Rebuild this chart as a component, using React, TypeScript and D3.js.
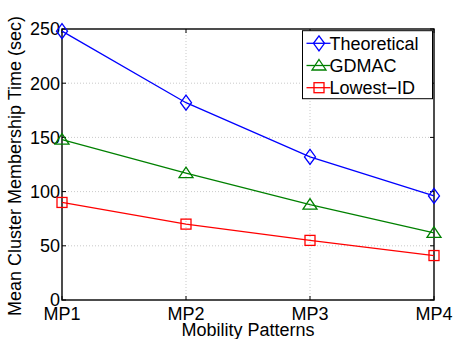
import * as d3 from 'd3';
import React from 'react';

// chart values
const patterns = ['MP1', 'MP2', 'MP3', 'MP4'];
const theoretical = [248, 182, 132, 96];
const gdmac = [148, 117, 88, 62];
const lowestId = [90, 70, 55, 41];
const yTicks = [0, 50, 100, 150, 200, 250];

const seriesList = [
  { name: 'Theoretical', values: theoretical, color: '#0000ff', marker: 'diamond' },
  { name: 'GDMAC', values: gdmac, color: '#008000', marker: 'triangle' },
  { name: 'Lowest\u2212ID', values: lowestId, color: '#ff0000', marker: 'square' },
];

const margin = { top: 29, right: 20, bottom: 39, left: 62 };
const W = 454;
const H = 339;
const font = '"Liberation Sans", Arial, Helvetica, sans-serif';
const fs = 18;

function Marker({ type, x, y, color }: { type: string; x: number; y: number; color: string }) {
  if (type === 'diamond') {
    return <path d={`M${x},${y - 7.5}L${x + 5.5},${y}L${x},${y + 7.5}L${x - 5.5},${y}Z`} fill="none" stroke={color} strokeWidth={1.3} />;
  }
  if (type === 'triangle') {
    return <path d={`M${x},${y - 6}L${x + 7},${y + 4.5}L${x - 7},${y + 4.5}Z`} fill="none" stroke={color} strokeWidth={1.3} />;
  }
  const s = 5;
  return <rect x={x - s} y={y - s} width={2 * s} height={2 * s} fill="none" stroke={color} strokeWidth={1.3} />;
}

export default function App() {
  const innerW = W - margin.left - margin.right;
  const innerH = H - margin.top - margin.bottom;

  const x = d3.scalePoint<string>().domain(patterns).range([0, innerW]);
  const y = d3.scaleLinear().domain([0, 250]).range([innerH, 0]);

  const line = d3.line<number>()
    .x((_, i) => x(patterns[i]) as number)
    .y(d => y(d));

  return (
    <svg width={W} height={H} style={{ position: 'absolute', left: 0, top: 0, background: '#fff' }} fontFamily={font}>
      <g transform={`translate(${margin.left},${margin.top})`}>
        {/* grid */}
        {yTicks.slice(1, -1).map(t => (
          <line key={'gy' + t} x1={0} x2={innerW} y1={y(t)} y2={y(t)} stroke="#bbb" strokeWidth={0.8} strokeDasharray="1,2" />
        ))}
        {patterns.slice(1, -1).map(p => (
          <line key={'gx' + p} x1={x(p)} x2={x(p)} y1={0} y2={innerH} stroke="#bbb" strokeWidth={0.8} strokeDasharray="1,2" />
        ))}

        {/* ticks */}
        {yTicks.map(t => (
          <g key={'ty' + t}>
            <line x1={0} x2={4} y1={y(t)} y2={y(t)} stroke="#000" />
            <line x1={innerW - 4} x2={innerW} y1={y(t)} y2={y(t)} stroke="#000" />
            <text x={-2} y={y(t)} dy="0.35em" textAnchor="end" fontSize={fs}>{t}</text>
          </g>
        ))}
        {patterns.map(p => (
          <g key={'tx' + p}>
            <line x1={x(p)} x2={x(p)} y1={innerH} y2={innerH - 4} stroke="#000" />
            <line x1={x(p)} x2={x(p)} y1={0} y2={4} stroke="#000" />
            <text x={x(p)} y={innerH + 19.5} textAnchor="middle" fontSize={fs}>{p}</text>
          </g>
        ))}

        <rect x={0} y={0} width={innerW} height={innerH} fill="none" stroke="#000" strokeWidth={1.4} />

        {/* series */}
        {seriesList.map(s => (
          <g key={s.name}>
            <path d={line(s.values) || ''} fill="none" stroke={s.color} strokeWidth={1.3} />
            {s.values.map((v, i) => (
              <Marker key={i} type={s.marker} x={x(patterns[i]) as number} y={y(v)} color={s.color} />
            ))}
          </g>
        ))}

        {/* legend */}
        <g transform={`translate(${innerW - 131.5},1.7)`}>
          <rect x={0} y={0} width={130} height={68} fill="#fff" stroke="#000" strokeWidth={1} />
          {seriesList.map((s, i) => (
            <g key={s.name} transform={`translate(0,${12.6 + i * 22.2})`}>
              <line x1={4} x2={28} y1={0} y2={0} stroke={s.color} strokeWidth={1.3} />
              <Marker type={s.marker} x={16.5} y={0} color={s.color} />
              <text x={27} y={0} dy="0.36em" fontSize={fs}>{s.name}</text>
            </g>
          ))}
        </g>
      </g>

      <text x={margin.left + innerW / 2} y={H - 3.5} textAnchor="middle" fontSize={fs}>Mobility Patterns</text>
      <text transform={`translate(21,166) rotate(-90)`} textAnchor="middle" fontSize={fs}>Mean Cluster Membership Time (sec)</text>
    </svg>
  );
}
